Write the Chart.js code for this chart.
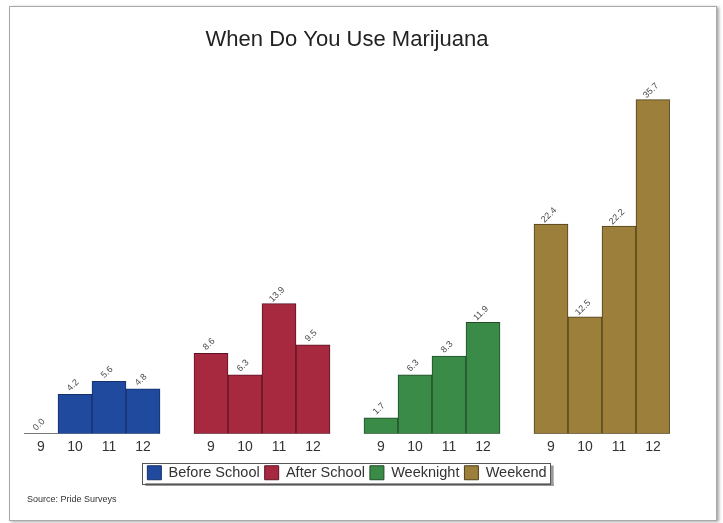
<!DOCTYPE html>
<html>
<head>
<meta charset="utf-8">
<title>When Do You Use Marijuana</title>
<script src="https://cdn.jsdelivr.net/npm/chart.js@4/dist/chart.umd.min.js"></script>
<style>
    html, body { margin: 0; padding: 0; background: #fff; }
    #page { position: relative; width: 723px; height: 523px; overflow: hidden; }
    #frame {
        position: absolute; left: 9px; top: 6px; width: 706px; height: 513px;
        border: 1px solid #a8a8a8; box-shadow: 2px 1px 3px rgba(0,0,0,0.35);
        background: #fff;
    }
    #chart { position: absolute; left: 0; top: 0; }
</style>
</head>
<body>
<div id="page">
    <div id="frame"></div>
    <canvas id="chart" width="723" height="523"></canvas>
</div>
<script>
// Grades shown under every group
const grades = ['9', '10', '11', '12'];

// Percent of students, by grade
const beforeSchool = [0.0, 4.2, 5.6, 4.8];
const afterSchool = [8.6, 6.3, 13.9, 9.5];
const weeknight = [1.7, 6.3, 8.3, 11.9];
const weekend = [22.4, 12.5, 22.2, 35.7];

const seriesNames = ['Before School', 'After School', 'Weeknight', 'Weekend'];
const seriesValues = [beforeSchool, afterSchool, weeknight, weekend];
const fillColors = ['#1f4a9e', '#a6293f', '#3a8a48', '#9c7f3a'];
const edgeColors = ['#15306a', '#5c1424', '#1f4d28', '#4f3f1a'];

// One category per bar, with an empty slot between groups
const labels = [];
seriesValues.forEach((vals, g) => {
    grades.forEach(gr => labels.push(gr));
    if (g < seriesValues.length - 1) labels.push('');
});

const datasets = seriesValues.map((vals, g) => {
    const data = labels.map(() => null);
    const start = g * (grades.length + 1);
    vals.forEach((v, i) => { data[start + i] = v; });
    return {
        label: seriesNames[g],
        data: data,
        backgroundColor: fillColors[g],
        borderColor: edgeColors[g],
        borderWidth: 1,
        borderSkipped: false,
        barPercentage: 1,
        categoryPercentage: 1
    };
});

// Rotated value labels above each bar, plus a baseline for zero bars
const valueLabels = {
    id: 'valueLabels',
    afterDatasetsDraw(chart) {
        const ctx = chart.ctx;
        ctx.save();
        chart.data.datasets.forEach((ds, di) => {
            const meta = chart.getDatasetMeta(di);
            meta.data.forEach((bar, i) => {
                const v = ds.data[i];
                if (v === null || v === undefined) return;
                if (v === 0) {
                    ctx.strokeStyle = '#777';
                    ctx.lineWidth = 1;
                    ctx.beginPath();
                    ctx.moveTo(bar.x - bar.width / 2, Math.round(bar.base) - 0.5);
                    ctx.lineTo(bar.x + bar.width / 2, Math.round(bar.base) - 0.5);
                    ctx.stroke();
                }
                ctx.save();
                ctx.translate(bar.x - 2, bar.y - 9);
                ctx.rotate(-Math.PI / 4);
                ctx.fillStyle = '#4a4a4a';
                ctx.font = '9px "Liberation Sans", Arial, sans-serif';
                ctx.textAlign = 'center';
                ctx.textBaseline = 'middle';
                ctx.fillText(v.toFixed(1), 0, 0);
                ctx.restore();
            });
        });
        ctx.restore();
    }
};

// Frame with shadow around the legend, and the source note
const legendFrame = {
    id: 'legendFrame',
    afterDraw(chart) {
        const ctx = chart.ctx;
        const boxes = chart.legend.legendHitBoxes;
        if (boxes && boxes.length) {
            const left = Math.min(...boxes.map(b => b.left)) - 5;
            const right = Math.max(...boxes.map(b => b.left + b.width)) + 4;
            const top = Math.min(...boxes.map(b => b.top)) - 3;
            const bottom = Math.max(...boxes.map(b => b.top + b.height)) + 3;
            ctx.save();
            ctx.fillStyle = '#9a9a9a';
            ctx.fillRect(right, top + 3, 3, bottom - top);
            ctx.fillRect(left + 3, bottom, right - left, 3);
            ctx.strokeStyle = '#555';
            ctx.lineWidth = 1;
            ctx.strokeRect(Math.round(left) + 0.5, Math.round(top) + 0.5, Math.round(right - left), Math.round(bottom - top));
            ctx.restore();
        }
        ctx.save();
        ctx.fillStyle = '#333';
        ctx.font = '9px "Liberation Sans", Arial, sans-serif';
        ctx.textBaseline = 'middle';
        ctx.fillText('Source: Pride Surveys', 27, 500);
        ctx.restore();
    }
};

new Chart(document.getElementById('chart'), {
    type: 'bar',
    data: { labels: labels, datasets: datasets },
    options: {
        responsive: false,
        animation: false,
        layout: { padding: { left: 24, right: 53, top: 27, bottom: 33 } },
        scales: {
            x: {
                stacked: true,
                grid: { display: false, drawTicks: false },
                border: { display: false },
                ticks: {
                    padding: 5,
                    color: '#333',
                    font: { family: '"Liberation Sans", Arial, sans-serif', size: 14 },
                    autoSkip: false,
                    maxRotation: 0
                }
            },
            y: {
                stacked: true,
                display: false,
                min: 0,
                max: 40
            }
        },
        plugins: {
            title: {
                display: true,
                text: 'When Do You Use Marijuana',
                color: '#222',
                font: { family: '"Liberation Sans", Arial, sans-serif', size: 22, weight: 'normal' },
                padding: { top: 0, bottom: 6 }
            },
            legend: {
                position: 'bottom',
                labels: {
                    boxWidth: 14,
                    boxHeight: 14,
                    padding: 5,
                    color: '#333',
                    font: { family: '"Liberation Sans", Arial, sans-serif', size: 14.5 }
                }
            },
            tooltip: { enabled: false }
        }
    },
    plugins: [valueLabels, legendFrame]
});
</script>
</body>
</html>
